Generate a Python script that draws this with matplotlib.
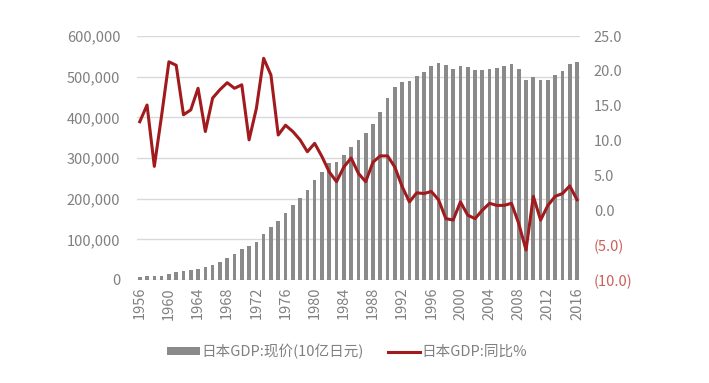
import numpy as np
from matplotlib import pyplot as plt
from matplotlib.ticker import FuncFormatter

plt.rcParams['font.family'] = ['Noto Sans CJK SC', 'DejaVu Sans']

years = list(range(1956, 2017))
# 日本GDP:现价(10亿日元)
gdp = [8000, 9000, 10000, 11000, 15000, 19000, 21000, 24000, 28000, 32000,
       37000, 45000, 53000, 64000, 76000, 84000, 94000, 113000, 131000, 144000,
       165000, 184000, 202000, 221000, 246000, 266000, 287000, 291000, 307000, 328000,
       344000, 361000, 384000, 414000, 448000, 475000, 488000, 490000, 502000, 511000,
       526000, 534000, 529000, 520000, 527000, 524000, 516000, 516000, 520000, 522000,
       526000, 531000, 520000, 492000, 500000, 492000, 493000, 504000, 515000, 531000,
       537000]
# 日本GDP:同比%
yoy = [12.7, 15.1, 6.3, 13.6, 21.3, 20.8, 13.7, 14.4, 17.5, 11.3,
       16.1, 17.3, 18.3, 17.5, 18.0, 10.1, 14.6, 21.8, 19.4, 10.8,
       12.2, 11.3, 10.1, 8.4, 9.6, 7.7, 5.5, 4.1, 6.2, 7.5,
       5.3, 4.1, 6.9, 7.8, 7.8, 6.2, 3.4, 1.2, 2.5, 2.4,
       2.7, 1.5, -1.2, -1.4, 1.2, -0.7, -1.2, 0.0, 1.0, 0.7,
       0.7, 1.0, -1.9, -5.7, 2.0, -1.4, 0.7, 2.0, 2.4, 3.5,
       1.5]

grey = '#8a8a8a'
red = '#a11a1e'
txt = '#808080'

fig = plt.figure(figsize=(7.09, 3.83), dpi=100)
ax = fig.add_axes([0.193, 0.269, 0.625, 0.637])
ax2 = ax.twinx()

ax.bar(years, gdp, width=0.5, color=grey, zorder=2, label='日本GDP:现价(10亿日元)')
ax2.plot(years, yoy, color=red, lw=2.2, zorder=3, label='日本GDP:同比%')

ax.set_xlim(1955.6, 2016.4)
ax.set_ylim(0, 600000)
ax.set_yticks(np.arange(0, 600001, 100000))
ax.yaxis.set_major_formatter(FuncFormatter(lambda v, p: f'{int(v):,}'))
ax2.set_ylim(-10, 25)
ax2.set_yticks(np.arange(-10, 26, 5))
ax2.yaxis.set_major_formatter(FuncFormatter(
    lambda v, p: f'({abs(v):.1f})' if v < 0 else f'{v:.1f}'))

ax.set_xticks(years[::4])
ax.set_xticklabels([str(y) for y in years[::4]], rotation=90)

ax.grid(axis='y', color='#d9d9d9', lw=1, zorder=0)
ax.set_axisbelow(True)
for a in (ax, ax2):
    for s in a.spines.values():
        s.set_visible(False)
    a.tick_params(length=0, colors=txt, labelsize=10.5)
ax.tick_params(axis='y', pad=12)
ax.tick_params(axis='x', pad=5)
ax2.tick_params(axis='y', pad=10)
for lbl, v in zip(ax2.get_yticklabels(), ax2.get_yticks()):
    if v < 0:
        lbl.set_color('#c9605c')

h1, l1 = ax.get_legend_handles_labels()
h2, l2 = ax2.get_legend_handles_labels()
fig.legend(h1 + h2, l1 + l2, loc='center', bbox_to_anchor=(0.49, 0.082), ncol=2,
           frameon=False, fontsize=10.5, labelcolor=txt, handlelength=2.2,
           handleheight=0.4, columnspacing=1.7, handletextpad=0.1)

fig.savefig('out.png', dpi=100)
